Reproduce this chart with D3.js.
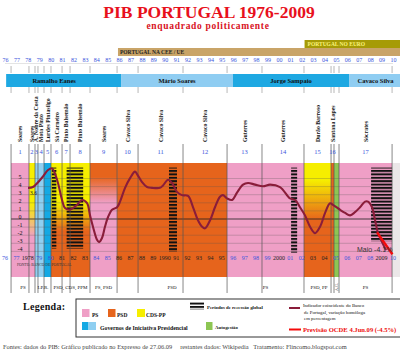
<!DOCTYPE html>
<html>
<head>
<meta charset="utf-8">
<script src="https://cdn.jsdelivr.net/npm/d3@7"></script>
<style>
body { margin: 0; background: #fff; }
svg { display: block; font-family: "Liberation Serif", "Times New Roman", serif; }
</style>
</head>
<body>
<svg width="400" height="354"></svg>
<script>
// ---------------- data ----------------
var years = d3.range(1976, 2011);
var fullYears = [1978, 1990, 2000, 2009];
var yTicks = [5, 4, 3, 2, 1, 0, -1, -2, -3, -4];

// governos constitucionais (inicio / fim, em anos)
var govNames = ["Soares", "Soares", "A. Nobre da Costa", "Mota Pinto", "Lurdes Pintasilgo", "Sá Carneiro",
  "Pinto Balsemão", "Pinto Balsemão", "Soares", "Cavaco Silva", "Cavaco Silva", "Cavaco Silva",
  "Guterres", "Guterres", "Durão Barroso", "Santana Lopes", "Sócrates"];
var govStart = [1976.53, 1978.10, 1978.63, 1978.89, 1979.42, 1980.03, 1981.0, 1981.7, 1983.45, 1985.82,
  1987.66, 1991.6, 1995.46, 1998.52, 2002.2, 2004.57, 2005.27];
var govEnd = [1978.10, 1978.63, 1978.89, 1979.42, 1980.03, 1981.0, 1981.7, 1983.45, 1985.82, 1987.66,
  1991.6, 1995.46, 1998.52, 2002.2, 2004.57, 2004.83, 2009.92];

// fundo por partido
var periodStart = [1976.53, 1978.10, 1978.63, 1979.42, 1980.03, 1983.45, 1985.82, 1995.46, 2002.2, 2004.57, 2004.83, 2005.27, 2009.92];
var periodEnd = [1978.10, 1978.63, 1979.42, 1980.03, 1983.45, 1985.82, 1995.46, 2002.2, 2004.57, 2004.83, 2005.27, 2009.92, 2010.7];
var periodParty = ["PS", "PS-CDS", "IPR1", "IPR2", "AD", "PS-PSD", "PSD", "PS", "PSD-PP", "PSD", "AG", "PS", "-"];

var partyLabels = ["PS", "I.P.R.", "PSD, CDS, PPM", "PS, PSD", "PSD", "PS", "PSD, PP", "A.G.", "PS"];
var partyFrom = [1976.53, 1978.63, 1980.03, 1983.45, 1985.82, 1995.46, 2002.2, 2004.83, 2005.27];
var partyTo = [1978.63, 1980.03, 1983.45, 1985.82, 1995.46, 2002.2, 2004.83, 2005.27, 2009.92];

// presidentes
var presNames = ["Ramalho Eanes", "Mário Soares", "Jorge Sampaio", "Cavaco Silva"];
var presStart = [1976.1, 1986.17, 1995.98, 2006.15];
var presEnd = [1986.17, 1995.98, 2006.15, 2010.8];

// recessoes globais
var recStart = [1980.1, 1981.4, 1990.37, 2001.07, 2008.08];
var recEnd = [1980.5, 1982.85, 1991.07, 2001.6, 2009.92];
var recLow = [-3.9, -3.9, -4.3, -4.4, -3.0];

// indicador coincidente do Banco de Portugal (variacao homologa %)
var gdpYear = [1978.02, 1978.45, 1978.9, 1979.33, 1979.77, 1980.12, 1980.56, 1981.0, 1981.26, 1981.7,
  1982.31, 1982.75, 1983.19, 1983.45, 1983.71, 1984.06, 1984.24, 1984.5, 1984.76, 1985.03,
  1985.38, 1985.82, 1986.08, 1986.52, 1986.96, 1987.39, 1987.57, 1988.01, 1988.45, 1988.88,
  1989.58, 1989.85, 1990.29, 1990.64, 1991.07, 1991.51, 1992.04, 1992.48, 1992.91, 1993.27,
  1993.53, 1993.97, 1994.4, 1994.84, 1995.1, 1995.46, 1995.9, 1996.33, 1996.86, 1997.3,
  1997.91, 1998.61, 1999.23, 2000.1, 2000.98, 2001.42, 2001.85, 2002.29, 2002.73, 2003.17,
  2003.61, 2004.05, 2004.48, 2004.74, 2005.35, 2005.8, 2006.24, 2006.67, 2007.11, 2007.55,
  2007.81, 2008.16, 2008.43, 2008.69, 2009.04, 2009.39];
var gdpValue = [3.6, 3.7, 4.3, 5.0, 5.8, 6.0, 4.6, 2.1, 1.1, 0.9,
  1.5, 2.1, 1.7, 0.2, -1.2, -2.8, -3.1, -2.6, -1.2, 0.0,
  0.9, 1.2, 1.9, 3.6, 4.8, 5.6, 5.3, 4.3, 3.7, 3.6,
  3.6, 3.9, 4.6, 4.2, 3.1, 2.7, 2.6, 1.2, -0.4, -1.2,
  -1.4, -0.4, 1.2, 2.5, 2.7, 2.3, 2.1, 3.0, 4.0, 4.2,
  4.0, 3.8, 4.0, 3.7, 2.3, 2.1, 1.2, 0.2, -1.2, -2.0,
  -1.2, 0.5, 1.7, 1.5, 0.9, 0.5, 0.2, 0.6, 1.2, 1.9,
  1.9, 1.2, -0.4, -2.0, -3.1, -4.1];

// previsao OCDE
var fcYear = [2008.6, 2009.95];
var fcValue = [-1.9, -4.6];

// ---------------- scales ----------------
var x = d3.scaleLinear().domain([1976, 2010]).range([5, 393]);
var y = d3.scaleLinear().domain([0, 5]).range([217, 176.5]);

var colors = {
  "PS": "#ef9fc6", "PSD": "#e6641c", "CDS": "#f6ee00",
  "IPR1": "#8fcff1", "IPR2": "#14a9e4", "AG": "#8dc653", "-": "#ebe7e8"
};

var svg = d3.select("svg");
var defs = svg.append("defs");

function grad(id, stops) {
  var g = defs.append("linearGradient").attr("id", id)
    .attr("x1", 0).attr("y1", 0).attr("x2", 0).attr("y2", 1);
  stops.forEach(function (s) {
    g.append("stop").attr("offset", s[0]).attr("stop-color", s[1]);
  });
}
grad("gPsCds", [[0, colors.CDS], [0.35, colors.CDS], [0.65, colors.PS]]);
grad("gAD", [[0, colors.CDS], [0.35, colors.CDS], [0.6, colors.PSD]]);
grad("gPsPsd", [[0, colors.PSD], [0.12, colors.PSD], [0.35, colors.PS]]);
grad("gPsdPp", [[0, colors.CDS], [0.15, colors.CDS], [0.5, colors.PSD]]);

var fills = {
  "PS": colors.PS, "PSD": colors.PSD, "IPR1": colors.IPR1, "IPR2": colors.IPR2, "AG": colors.AG, "-": colors["-"],
  "PS-CDS": "url(#gPsCds)", "AD": "url(#gAD)", "PS-PSD": "url(#gPsPsd)", "PSD-PP": "url(#gPsdPp)"
};

var pat = defs.append("pattern").attr("id", "rec").attr("patternUnits", "userSpaceOnUse")
  .attr("width", 6).attr("height", 3.4);
pat.append("rect").attr("width", 6).attr("height", 2).attr("fill", "#111");

// ---------------- titulo ----------------
svg.append("text").attr("x", 209).attr("y", 18).attr("text-anchor", "middle")
  .attr("font-size", 17.5).attr("font-weight", "bold").attr("fill", "#e8101c")
  .text("PIB PORTUGAL 1976-2009");
svg.append("text").attr("x", 208).attr("y", 29).attr("text-anchor", "middle")
  .attr("font-size", 9.5).attr("font-weight", "bold").attr("fill", "#d8121e").attr("letter-spacing", 0.7)
  .text("enquadrado politicamente");

// ---------------- faixas CEE / Euro ----------------
svg.append("rect").attr("x", x(2002.25)).attr("y", 40).attr("width", 400 - x(2002.25)).attr("height", 8).attr("fill", "#a69b06");
svg.append("text").attr("x", x(2002.25) + 3).attr("y", 46.3).attr("font-size", 5.5).attr("font-weight", "bold")
  .attr("fill", "#fbf37a").text("PORTUGAL NO EURO");
svg.append("rect").attr("x", x(1985.9)).attr("y", 48).attr("width", 400 - x(1985.9)).attr("height", 8).attr("fill", "#c9a468");
svg.append("text").attr("x", x(1985.9) + 2).attr("y", 54.3).attr("font-size", 5.5).attr("font-weight", "bold")
  .attr("fill", "#222").text("PORTUGAL NA CEE / UE");

// ---------------- eixo de anos superior ----------------
var topAxis = svg.append("g").attr("transform", "translate(0,63)")
  .call(d3.axisTop(x).tickValues(years).tickSize(0).tickPadding(1.5).tickFormat(function (d) { return String(d).slice(2); }));
topAxis.attr("font-family", null).attr("font-size", 6);
topAxis.select(".domain").attr("stroke", "#c8c8c8").attr("stroke-dasharray", "1,1");
topAxis.selectAll("text").attr("fill", "#3a56dc");

// ---------------- presidentes ----------------
svg.append("g").selectAll("rect").data(presNames).enter().append("rect")
  .attr("x", function (d, i) { return x(presStart[i]); })
  .attr("width", function (d, i) { return Math.min(x(presEnd[i]), 400) - x(presStart[i]); })
  .attr("y", 74).attr("height", 13)
  .attr("fill", function (d, i) { return i % 2 ? "#8fcdf2" : "#1ea8e2"; });
svg.append("g").selectAll("text").data(presNames).enter().append("text")
  .attr("x", function (d, i) { return i == 0 ? x(presStart[i]) + 48 : (x(presStart[i]) + Math.min(x(presEnd[i]), 402)) / 2; })
  .attr("y", 82.8).attr("text-anchor", "middle")
  .attr("font-size", 6.5).attr("font-weight", "bold").attr("fill", "#111")
  .text(function (d) { return d; });

// ---------------- fundo do grafico ----------------
var plotTop = 163, plotBottom = 277;
svg.append("g").selectAll("rect").data(periodParty).enter().append("rect")
  .attr("x", function (d, i) { return x(periodStart[i]); })
  .attr("width", function (d, i) { return Math.min(x(periodEnd[i]), 400) - x(periodStart[i]); })
  .attr("y", plotTop).attr("height", plotBottom - plotTop)
  .attr("fill", function (d) { return fills[d]; });

// grelha
svg.append("g").selectAll("line").data(yTicks).enter().append("line")
  .attr("x1", x(1976.53)).attr("x2", x(2009.92))
  .attr("y1", function (d) { return y(d) + 2; }).attr("y2", function (d) { return y(d) + 2; })
  .attr("stroke", function (d) { return d == 0 ? "#222" : "#555"; })
  .attr("stroke-width", function (d) { return d == 0 ? 0.9 : 0.5; })
  .attr("stroke-opacity", function (d) { return d == 0 ? 0.9 : 0.55; });

// recessoes
svg.append("g").selectAll("rect").data(recStart).enter().append("rect")
  .attr("x", function (d) { return x(d); })
  .attr("width", function (d, i) { return x(recEnd[i]) - x(d); })
  .attr("y", y(6.1))
  .attr("height", function (d, i) { return y(recLow[i]) - y(6.1); })
  .attr("fill", "url(#rec)");

// linhas verticais dos governos
var bounds = Array.from(new Set(govStart.concat(govEnd)));
var segs = [[66, 73], [87, 93], [144, 293]];
bounds.forEach(function (b) {
  segs.forEach(function (s, k) {
    svg.append("line").attr("x1", x(b)).attr("x2", x(b)).attr("y1", s[0]).attr("y2", s[1])
      .attr("stroke", k == 2 ? "#555" : "#999").attr("stroke-width", 0.7);
  });
});

// nomes dos primeiros-ministros
svg.append("g").selectAll("text").data(govNames).enter().append("text")
  .attr("transform", function (d, i) { return "translate(" + ((x(govStart[i]) + x(govEnd[i])) / 2 + 2) + ",142) rotate(-90)"; })
  .attr("font-size", 5.8).attr("font-weight", "bold").attr("fill", "#111")
  .text(function (d) { return d; });
svg.append("g").selectAll("text").data(govNames).enter().append("text")
  .attr("x", function (d, i) { return (x(govStart[i]) + x(govEnd[i])) / 2; })
  .attr("y", 154).attr("text-anchor", "middle")
  .attr("font-size", 6.5).attr("fill", "#3a56dc")
  .text(function (d, i) { return i + 1; });

// eixo y
svg.append("g").selectAll("text").data(yTicks).enter().append("text")
  .attr("x", 20).attr("y", function (d) { return y(d) + 2; }).attr("text-anchor", "middle")
  .attr("font-size", 6).attr("fill", "#111")
  .text(function (d) { return d; });

// anos dentro do grafico
function partyAt(yr) {
  for (var i = 0; i < periodStart.length; i++) if (yr >= periodStart[i] && yr < periodEnd[i]) return periodParty[i];
  return "-";
}
svg.append("g").selectAll("text").data(years).enter().append("text")
  .attr("x", function (d) { return x(d); }).attr("y", 260).attr("text-anchor", "middle")
  .attr("font-size", 6)
  .attr("fill", function (d) {
    if (fullYears.indexOf(d) >= 0) return "#222";
    var p = partyAt(d);
    return (p == "PS" || p == "IPR1" || p == "IPR2" || p == "PS-PSD" || p == "AG" || p == "-") ? "#3a56dc" : "#222";
  })
  .text(function (d) { return fullYears.indexOf(d) >= 0 ? d : String(d).slice(2); });
svg.append("text").attr("x", 17).attr("y", 266).attr("font-size", 3.8).attr("fill", "#333")
  .text("FONTE: BANCO DE PORTUGAL");

// linha do PIB
var line = d3.line()
  .x(function (d) { return x(d[0]); })
  .y(function (d) { return y(d[1]); })
  .curve(d3.curveCatmullRom);
svg.append("path").datum(d3.zip(gdpYear, gdpValue))
  .attr("fill", "none").attr("stroke", "#8a1d3a").attr("stroke-width", 2.1).attr("d", line);
svg.append("path").datum(d3.zip(fcYear, fcValue))
  .attr("fill", "none").attr("stroke", "#f40a0a").attr("stroke-width", 2.4).attr("d", line);

svg.append("text").attr("x", x(gdpYear[0]) + 2).attr("y", y(gdpValue[0]) + 7).attr("font-size", 5.5).attr("fill", "#111").text("3.6");
svg.append("text").attr("x", 357).attr("y", 252).attr("font-family", "Liberation Sans, Arial, sans-serif")
  .attr("font-size", 7).attr("fill", "#333").text("Maio -4.1%");

// partidos em baixo
svg.append("g").selectAll("text").data(partyLabels).enter().append("text")
  .attr("transform", function (d, i) {
    var cx = (x(partyFrom[i]) + x(partyTo[i])) / 2;
    return d == "A.G." ? "translate(" + (cx + 1.5) + ",291) rotate(-90)" : "translate(" + cx + ",289)";
  })
  .attr("text-anchor", function (d) { return d == "A.G." ? "start" : "middle"; })
  .attr("font-size", function (d) { return d == "A.G." ? 4 : 5; })
  .attr("fill", "#111")
  .text(function (d) { return d; });

// ---------------- legenda ----------------
svg.append("text").attr("x", 23).attr("y", 310).attr("font-size", 10).attr("font-weight", "bold")
  .attr("letter-spacing", 0.3).attr("fill", "#111").text("Legenda:");
svg.append("rect").attr("x", 76).attr("y", 299).attr("width", 330).attr("height", 38)
  .attr("fill", "#fff").attr("stroke", "#333").attr("stroke-width", 1);

var leg = svg.append("g").attr("font-size", 5.5).attr("font-weight", "bold").attr("fill", "#111");
function sw(px, py, w, c) { leg.append("rect").attr("x", px).attr("y", py).attr("width", w).attr("height", 8).attr("fill", c); }
sw(82, 309, 7.5, colors.PS); leg.append("text").attr("x", 92).attr("y", 317).text("PS");
sw(108, 309, 7.5, colors.PSD); leg.append("text").attr("x", 117).attr("y", 317).text("PSD");
sw(137, 309, 8, colors.CDS); leg.append("text").attr("x", 146).attr("y", 317).text("CDS-PP");
sw(82, 322, 6.5, colors.IPR2); sw(88.5, 322, 7.5, colors.IPR1);
leg.append("text").attr("x", 100).attr("y", 330).attr("font-size", 5.8).text("Governos de Iniciativa Presidencial");

leg.append("rect").attr("x", 190).attr("y", 302).attr("width", 14).attr("height", 7.5).attr("fill", "url(#rec)");
leg.append("text").attr("x", 207).attr("y", 308.5).attr("font-size", 4.8).text("Períodos de recessão global");
sw(206, 322, 6.5, colors.AG);
leg.append("text").attr("x", 215).attr("y", 329).attr("font-size", 4.8).text("Autogestão");

leg.append("line").attr("x1", 289).attr("x2", 300).attr("y1", 308).attr("y2", 308).attr("stroke", "#8a1d3a").attr("stroke-width", 2);
var ind = leg.append("text").attr("font-size", 4.8).attr("font-weight", "normal");
["Indicador coincidente do Banco", "de Portugal, variação homóloga", "em percentagem"].forEach(function (t, i) {
  ind.append("tspan").attr("x", i == 0 ? 303 : 304).attr("y", 307 + i * 6.5).text(t);
});
leg.append("line").attr("x1", 289).attr("x2", 301).attr("y1", 329.5).attr("y2", 329.5).attr("stroke", "#f40a0a").attr("stroke-width", 2);
leg.append("text").attr("x", 303).attr("y", 332).attr("font-size", 6.6).attr("fill", "#ee1010")
  .text("Previsão OCDE 4.Jun.09 (-4.5%)");

// ---------------- rodape ----------------
svg.append("text").attr("x", 3).attr("y", 349).attr("font-size", 6.4).attr("fill", "#444")
  .attr("xml:space", "preserve")
  .text("Fontes: dados do PIB: Gráfico publicado no Expresso de 27.06.09     restantes dados: Wikipedia   Tratamento: Flincomo.blogspot.com");
</script>
</body>
</html>
